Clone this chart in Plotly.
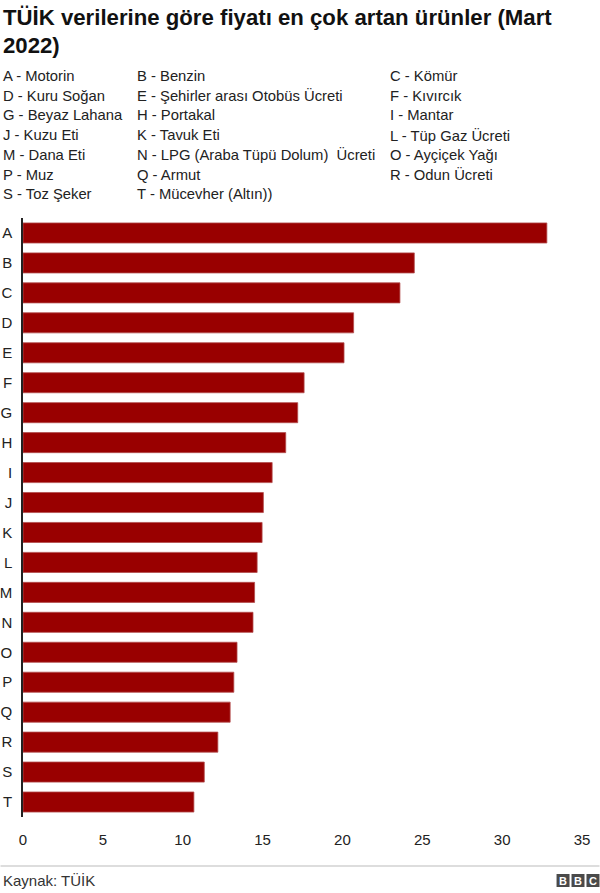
import plotly.graph_objects as go

# ---- data ----
letters = ["A", "B", "C", "D", "E", "F", "G", "H", "I", "J",
           "K", "L", "M", "N", "O", "P", "Q", "R", "S", "T"]
products = ["Motorin", "Benzin", "Kömür", "Kuru Soğan", "Şehirler arası Otobüs Ücreti",
            "Kıvırcık", "Beyaz Lahana", "Portakal", "Mantar", "Kuzu Eti",
            "Tavuk Eti", "Tüp Gaz Ücreti", "Dana Eti", "LPG (Araba Tüpü Dolum)  Ücreti",
            "Ayçiçek Yağı", "Muz", "Armut", "Odun Ücreti", "Toz Şeker", "Mücevher (Altın))"]
values = [32.8, 24.5, 23.6, 20.7, 20.1, 17.6, 17.2, 16.45, 15.6, 15.05,
          14.97, 14.66, 14.5, 14.4, 13.4, 13.2, 12.97, 12.2, 11.35, 10.7]
x_ticks = [0, 5, 10, 15, 20, 25, 30, 35]

title_lines = ["TÜİK verilerine göre fiyatı en çok artan ürünler (Mart", "2022)"]
source_text = "Kaynak: TÜİK"

# ---- layout geometry (pixels) ----
W, H = 600, 893
ML, MR, MT, MB = 22.5, 17.5, 218, 76
PW, PH = W - ML - MR, H - MT - MB

def px_x(p):
    return (p - ML) / PW

def px_y(p):
    return (H - MB - p) / PH

FONT = "Liberation Sans, Arial, Helvetica, sans-serif"

fig = go.Figure(go.Bar(
    x=values, y=letters, orientation="h",
    marker=dict(color="#990000", line=dict(color="#b34d4d", width=0.8)),
    hoverinfo="skip",
))

annotations = []
# title
for i, line in enumerate(title_lines):
    annotations.append(dict(
        text=f"<b>{line}</b>", x=px_x(0), y=px_y(17 + i * 28),
        xref="paper", yref="paper", xanchor="left", yanchor="middle",
        showarrow=False, font=dict(family=FONT, size=22.2, color="#111111"),
    ))

# legend of codes, three columns
col_x = [0, 135, 388]
row_y0, row_dy = 76, 19.7
for idx, (code, name) in enumerate(zip(letters, products)):
    r, c = divmod(idx, 3)
    annotations.append(dict(
        text=f"{code} - {name}", x=px_x(col_x[c]), y=px_y(row_y0 + r * row_dy),
        xref="paper", yref="paper", xanchor="left", yanchor="middle",
        showarrow=False, font=dict(family=FONT, size=14.8, color="#222222"),
    ))

# source
annotations.append(dict(
    text=source_text, x=px_x(0), y=px_y(880),
    xref="paper", yref="paper", xanchor="left", yanchor="middle",
    showarrow=False, font=dict(family=FONT, size=15, color="#333333"),
))

shapes = [dict(type="line", xref="paper", yref="paper",
               x0=px_x(0), x1=px_x(W), y0=px_y(866), y1=px_y(866),
               line=dict(color="#bbbbbb", width=1))]

# BBC logo
for k, ch in enumerate("BBC"):
    x0 = 557 + k * 15
    shapes.append(dict(type="rect", xref="paper", yref="paper",
                       x0=px_x(x0), x1=px_x(x0 + 13), y0=px_y(887), y1=px_y(874),
                       fillcolor="#4a4a4a", line=dict(width=0)))
    annotations.append(dict(
        text=f"<b>{ch}</b>", x=px_x(x0 + 6.5), y=px_y(880.5),
        xref="paper", yref="paper", xanchor="center", yanchor="middle",
        showarrow=False, font=dict(family=FONT, size=11, color="white"),
    ))

fig.update_layout(
    width=W, height=H,
    margin=dict(l=ML, r=MR, t=MT, b=MB, pad=0, autoexpand=False),
    paper_bgcolor="white", plot_bgcolor="white",
    showlegend=False,
    bargap=0.33,
    font=dict(family=FONT, size=15, color="#222222"),
    annotations=annotations,
    shapes=shapes,
    xaxis=dict(range=[0, 35], tickvals=x_ticks, showgrid=False, zeroline=False,
               showline=False, ticks="outside", ticklen=9, automargin=False,
               tickcolor="rgba(0,0,0,0)", tickfont=dict(family=FONT, size=15, color="#222222"),
               fixedrange=True),
    yaxis=dict(categoryorder="array", categoryarray=letters, autorange="reversed",
               showgrid=False, zeroline=False, showline=True, linecolor="#222222",
               linewidth=1.5, ticks="outside", ticklen=6, tickcolor="rgba(0,0,0,0)",
               automargin=False,
               tickfont=dict(family=FONT, size=15, color="#222222"), fixedrange=True),
)

fig.write_html("out.html", config={"displayModeBar": False},
               post_script="document.body.style.margin='0';document.body.style.padding='0';")
